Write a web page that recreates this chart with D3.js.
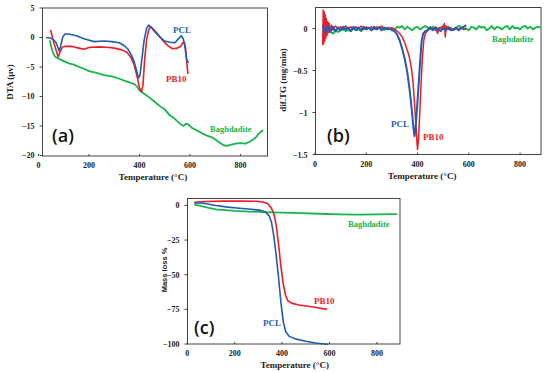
<!DOCTYPE html>
<html>
<head>
<meta charset="utf-8">
<script src="https://cdn.jsdelivr.net/npm/d3@7.9.0/dist/d3.min.js"></script>
<style>
  body { margin: 0; background: #fff; }
  svg { display: block; }
  .tick-label { font-family: "Liberation Serif", serif; font-weight: bold; font-size: 8px; fill: #222; }
  .axis-title { font-family: "Liberation Serif", serif; font-weight: bold; font-size: 9px; fill: #222; }
  .series-label { font-family: "Liberation Serif", serif; font-weight: bold; font-size: 9px; }
  .panel-label { font-family: "Open Sans", "Noto Sans", sans-serif; font-weight: 600; font-size: 18px; fill: #111; }
</style>
</head>
<body>
<svg id="chart" width="550" height="372"></svg>
<script>
const BLUE = '#1f5db5';
const RED = '#ee1c25';
const GREEN = '#19b44c';

// ---- (a) DTA ----
const dtaPCL = [[30,0],[48,-0.1],[60,-0.4],[70,-0.9],[76,-1.6],[82,-2.3],[88,-1.4],[96,0.1],[105,0.6],[120,0.6],[150,0.3],[180,-0.2],[220,-0.7],[260,-0.6],[290,-0.7],[320,-0.9],[340,-1.4],[355,-2.0],[368,-3.0],[378,-4.0],[388,-5.5],[396,-6.9],[402,-6.4],[410,-3.5],[418,-0.6],[428,1.5],[436,2.1],[445,1.8],[460,1.0],[480,0.1],[500,-0.6],[520,-0.8],[540,-0.9],[555,-0.2],[566,0.3],[573,-0.2],[580,-1.5],[587,-3.8],[595,-4.3]];
const dtaPB10 = [[48,1.3],[52,0.6],[58,-0.5],[65,-1.5],[72,-2.5],[78,-3.3],[85,-2.5],[95,-1.6],[110,-1.5],[130,-1.5],[160,-1.8],[180,-2.0],[200,-1.7],[240,-1.6],[280,-1.7],[300,-1.8],[330,-2.1],[350,-2.5],[365,-3.3],[378,-4.5],[390,-6.5],[400,-8.5],[408,-9.2],[414,-8.0],[420,-4.0],[428,-0.5],[436,1.2],[443,1.8],[455,1.4],[470,0.7],[490,-0.4],[510,-1.3],[530,-1.9],[550,-1.8],[563,-1.5],[572,-0.9],[578,-0.8],[583,-2.0],[588,-4.5],[592,-6.2]];
const dtaBagh = [[45,-0.5],[50,-1.5],[55,-2.3],[60,-2.8],[65,-3.2],[70,-3.4],[80,-3.6],[90,-3.8],[100,-4.0],[120,-4.4],[140,-4.6],[160,-5.0],[180,-5.3],[200,-5.7],[230,-6.0],[260,-6.4],[290,-6.6],[320,-7.0],[340,-7.3],[360,-7.6],[370,-7.8],[380,-7.9],[390,-8.3],[400,-9.0],[420,-9.6],[440,-10.2],[460,-10.9],[480,-11.6],[500,-12.2],[520,-13.2],[540,-13.8],[560,-14.6],[575,-15.0],[585,-14.6],[595,-14.8],[610,-15.4],[630,-15.8],[650,-16.3],[670,-16.7],[690,-17.0],[710,-17.6],[730,-18.2],[745,-18.4],[760,-18.2],[780,-18.0],[800,-17.9],[820,-18.0],[840,-17.6],[860,-17.0],[875,-16.2],[890,-15.7]];

// ---- (b) dif.TG ----
const dtgPCL = [[30,0.04],[40,-0.05],[50,0.03],[60,-0.04],[70,0.02],[80,-0.03],[90,0.01],[100,-0.02],[110,0.02],[120,-0.01],[130,0.01],[140,-0.03],[150,0.02],[160,-0.02],[170,0.01],[180,-0.02],[190,0.02],[200,-0.01],[210,0.01],[220,-0.02],[230,0.02],[240,-0.01],[250,0.01],[260,-0.02],[270,0.01],[280,-0.01],[290,0.0],[300,-0.02],
  [310,-0.03],[320,-0.07],[330,-0.14],[340,-0.24],[350,-0.36],[360,-0.52],[370,-0.75],[378,-0.98],[384,-1.18],[388,-1.28],[392,-1.2],[398,-0.95],[404,-0.68],[410,-0.4],[416,-0.15],[422,-0.06],[430,-0.03],
  [440,-0.02],[450,0.01],[460,-0.02],[470,0.01],[480,-0.01],[490,-0.03],[500,0.0],[510,-0.02],[520,0.01],[530,-0.02],[540,-0.01],[550,0.01],[560,-0.02],[570,0.0],[580,0.02],[590,0.04]];
const dtgPB10 = [[30,-0.2],[32,0.22],[34,-0.18],[36,0.2],[38,-0.15],[40,0.16],[42,-0.12],[44,0.12],[47,-0.08],[50,0.08],[53,-0.05],[56,0.06],[60,-0.03],[65,0.04],[70,-0.02],[80,0.03],[90,0.0],[100,0.02],[110,-0.01],[120,0.03],[130,0.0],[140,0.02],[150,-0.01],[160,0.02],[170,0.0],[180,0.03],[190,-0.01],[200,0.02],[210,0.0],[220,0.02],[230,-0.01],[240,0.02],[250,0.0],[260,0.03],[270,0.0],[280,0.01],[290,0.0],[300,0.01],
  [310,-0.01],[320,-0.03],[330,-0.06],[340,-0.1],[350,-0.17],[360,-0.26],[368,-0.34],[375,-0.45],[382,-0.62],[388,-0.88],[393,-1.12],[397,-1.32],[400,-1.44],[403,-1.35],[407,-1.12],[411,-0.85],[415,-0.58],[419,-0.35],[424,-0.15],[430,-0.06],[440,-0.02],
  [450,0.02],[460,-0.01],[470,0.02],[478,-0.06],[485,0.01],[495,-0.01],[505,0.06],[508,-0.1],[512,0.03],[520,-0.01],[530,0.01],[540,-0.02],[550,0.0],[560,-0.01],[570,0.01],[580,-0.01],[590,0.0]];
const dtgBaghT = [30,40,50,60,70,80,90,100,110,120,130,140,150,160,170,180,190,200,210,220,230,240,250,260,270,280,290,300,310,320,330,340,350,360,370,380,390,400,410,420,430,440,450,460,470,480,490,500,510,520,530,540,550,560,570,580,590,600,610,620,630,640,650,660,670,680,690,700,710,720,730,740,750,760,770,780,790,800,810,820,830,840,850,860,870,880];
const dtgBaghV = [-0.03,-0.05,-0.03,-0.04,-0.06,-0.03,-0.04,-0.02,-0.01,-0.03,
  -0.02,-0.03,0.00,-0.02,-0.01,-0.03,0.00,-0.01,0.01,-0.02,
  0.00,-0.01,0.02,0.01,-0.02,0.01,-0.01,0.00,-0.02,0.02,
  0.01,0.03,-0.01,0.02,0.00,-0.02,0.01,0.02,-0.01,0.01,
  0.03,0.01,-0.01,0.02,-0.02,0.00,0.01,0.03,-0.01,0.02,
  0.00,-0.02,0.01,0.03,0.02,-0.01,0.00,-0.02,0.02,0.01,
  -0.01,0.03,0.01,0.02,-0.02,0.00,0.03,-0.01,0.02,0.01,
  -0.01,0.02,0.03,-0.01,0.03,0.00,0.01,-0.01,0.02,0.03,
  0.00,0.02,-0.01,0.01,0.02,0.01];

// ---- (c) mass loss ----
const massPCL = [[30,1.8],[55,1.8],[80,1.2],[120,0],[170,-1.2],[220,-2],[270,-2.8],[310,-3.6],[330,-4.8],[345,-7.5],[355,-12],[365,-22],[375,-36],[385,-52],[395,-70],[405,-84],[415,-91],[430,-94.5],[460,-96.5],[500,-98],[540,-99.3],[580,-100],[595,-100.3]];
const massPB10 = [[30,2.2],[80,2.8],[150,3.1],[220,3.2],[290,3.0],[320,2.5],[340,1.2],[355,-2],[365,-6],[375,-14],[385,-28],[395,-44],[405,-57],[415,-65],[425,-69],[440,-70.5],[470,-71.8],[510,-72.8],[550,-73.8],[590,-75]];
const massBagh = [[30,0.5],[60,-0.5],[90,-1.8],[120,-2.8],[160,-3.4],[200,-3.9],[260,-4.4],[320,-4.8],[400,-5.2],[480,-5.6],[560,-6.0],[640,-6.4],[720,-6.7],[800,-6.5],[885,-6.3]];

const xTicks = [0, 200, 400, 600, 800];

const svg = d3.select('#chart');
svg.append('rect').attr('width', 550).attr('height', 372).attr('fill', '#fff');

function drawPanel(p) {
  const g = svg.append('g');
  const f = p.frame;
  const x = d3.scaleLinear().domain([0, 900]).range(p.xRange);
  const y = d3.scaleLinear().domain(p.yDomain).range([f.y1, f.y0]);

  // frame
  g.append('rect')
    .attr('x', f.x0).attr('y', f.y0)
    .attr('width', f.x1 - f.x0).attr('height', f.y1 - f.y0)
    .attr('fill', 'none').attr('stroke', '#444').attr('stroke-width', 1);

  // y ticks
  p.yTicks.forEach((t) => {
    g.append('line')
      .attr('x1', f.x0 - 3).attr('x2', f.x0)
      .attr('y1', y(t)).attr('y2', y(t))
      .attr('stroke', '#444');
    g.append('text').attr('class', 'tick-label')
      .attr('x', f.x0 - 8).attr('y', y(t) + 3)
      .attr('text-anchor', 'end')
      .text(d3.format('~')(t).replace('-', '\u2212'));
  });

  // x ticks
  xTicks.forEach((t) => {
    g.append('line')
      .attr('x1', x(t)).attr('x2', x(t))
      .attr('y1', f.y1).attr('y2', f.y1 - 2)
      .attr('stroke', '#444');
    g.append('text').attr('class', 'tick-label')
      .attr('x', x(t)).attr('y', f.y1 + 12)
      .attr('text-anchor', 'middle')
      .text(t);
  });

  const line = d3.line().x((d) => x(d[0])).y((d) => y(d[1]));
  p.series.forEach((s) => {
    g.append('path')
      .attr('d', line(s.data))
      .attr('fill', 'none')
      .attr('stroke', s.color)
      .attr('stroke-width', s.width || 1.6)
      .attr('stroke-linejoin', 'round');
  });

  // axis titles
  g.append('text').attr('class', 'axis-title')
    .attr('x', (f.x0 + f.x1) / 2 + p.xTitleDx).attr('y', f.y1 + 24)
    .attr('text-anchor', 'middle')
    .text('Temperature (\u00b0C)');
  g.append('text').attr('class', 'axis-title')
    .attr('transform', `translate(${p.yTitle.x},${p.yTitle.y}) rotate(-90)`)
    .attr('text-anchor', 'middle')
    .style('font-family', p.yTitle.font || null)
    .style('font-size', p.yTitle.size || null)
    .text(p.yTitle.text);

  p.labels.forEach((l) => {
    g.append('text').attr('class', 'series-label')
      .attr('x', l.x).attr('y', l.y)
      .attr('fill', l.color)
      .style('font-size', l.size || null)
      .text(l.text);
  });

  g.append('text').attr('class', 'panel-label')
    .attr('x', p.tag.x).attr('y', p.tag.y)
    .text(p.tag.text);
}

drawPanel({
  frame: { x0: 42.5, y0: 8, x1: 267.5, y1: 156 },
  xRange: [38.5, 265.7],
  yDomain: [-20.1, 5],
  yTicks: [5, 0, -5, -10, -15, -20],
  xTitleDx: -2,
  series: [
    { data: dtaBagh, color: GREEN, width: 1.8 },
    { data: dtaPB10, color: RED },
    { data: dtaPCL, color: BLUE }
  ],
  yTitle: { x: 13, y: 82, text: 'DTA (\u03bcv)' },
  labels: [
    { text: 'PCL', x: 173, y: 33, color: BLUE },
    { text: 'PB10', x: 166, y: 82, color: RED },
    { text: 'Baghdadite', x: 210, y: 132, color: GREEN, size: '8.5px' }
  ],
  tag: { text: '(a)', x: 52, y: 142 }
});

drawPanel({
  frame: { x0: 315.5, y0: 7.5, x1: 541, y1: 154.5 },
  xRange: [315, 545.7],
  yDomain: [-1.5, 0.25],
  yTicks: [0, -0.5, -1, -1.5],
  xTitleDx: -6,
  series: [
    { data: dtgBaghT.map((t, i) => [t, dtgBaghV[i]]), color: GREEN, width: 1.9 },
    { data: dtgPB10, color: RED, width: 1.5 },
    { data: dtgPCL, color: BLUE, width: 2 }
  ],
  yTitle: { x: 286, y: 80, text: 'dif.TG (mg/min)' },
  labels: [
    { text: 'PCL', x: 391, y: 127, color: BLUE },
    { text: 'PB10', x: 423, y: 140, color: RED },
    { text: 'Baghdadite', x: 492, y: 42, color: GREEN, size: '8.5px' }
  ],
  tag: { text: '(b)', x: 327, y: 142 }
});

drawPanel({
  frame: { x0: 187.5, y0: 198.5, x1: 400, y1: 344 },
  xRange: [187.3, 400.6],
  yDomain: [-100, 5],
  yTicks: [0, -25, -50, -75, -100],
  xTitleDx: 1,
  series: [
    { data: massBagh, color: GREEN, width: 1.8 },
    { data: massPB10, color: RED },
    { data: massPCL, color: BLUE }
  ],
  yTitle: { x: 167, y: 270, text: 'Mass loss %', font: '"Liberation Sans", Arial, sans-serif', size: '7.5px' },
  labels: [
    { text: 'Baghdadite', x: 348, y: 227, color: GREEN, size: '8.5px' },
    { text: 'PB10', x: 314, y: 304, color: RED },
    { text: 'PCL', x: 263, y: 326, color: BLUE }
  ],
  tag: { text: '(c)', x: 194, y: 334 }
});
</script>
</body>
</html>
